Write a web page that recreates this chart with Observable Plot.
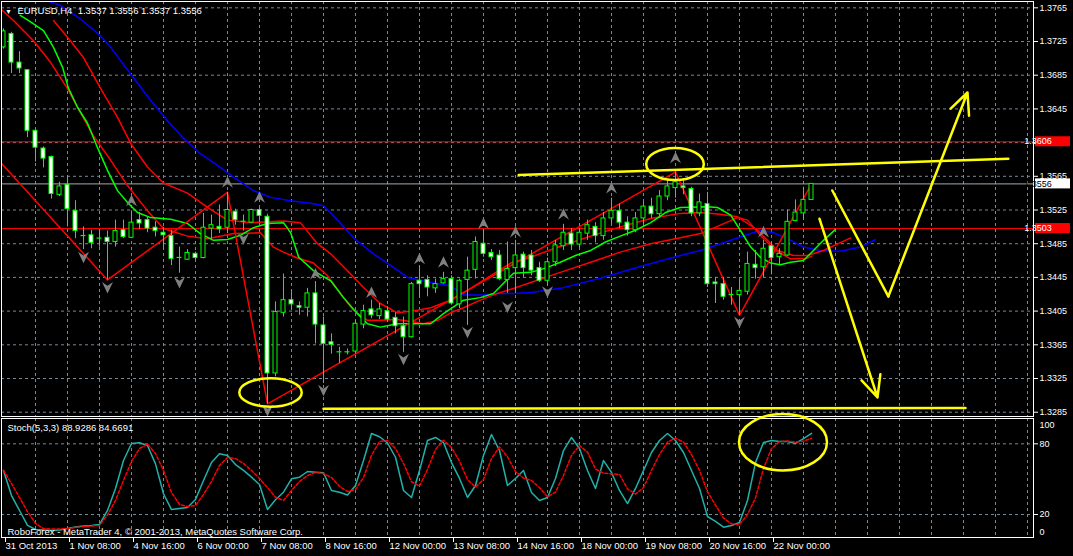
<!DOCTYPE html>
<html><head><meta charset="utf-8">
<script src="https://cdn.jsdelivr.net/npm/d3@7"></script>
<script src="https://cdn.jsdelivr.net/npm/@observablehq/plot@0.6"></script>
<style>
html,body{margin:0;padding:0;background:#000;overflow:hidden;}
#chart{position:relative;width:1073px;height:556px;background:#000;overflow:hidden;}
#chart svg{position:absolute;left:0;display:block;}
</style></head><body><div id="chart"></div>
<script>
// ---------- DATA ----------
const opens = [1.3718,1.3734,1.3700,1.3691,1.3619,1.3598,1.3588,1.3543,1.3555,1.3524,1.3494,1.3495,1.3491,1.3492,1.3487,1.3501,1.3492,1.3513,1.3513,1.3504,1.3498,1.3494,1.3468,1.3466,1.3473,1.3468,1.3503,1.3505,1.3504,1.3523,1.3511,1.3510,1.3525,1.3517,1.3331,1.3403,1.3418,1.3411,1.3409,1.3426,1.3388,1.3368,1.3356,1.3356,1.3357,1.3389,1.3407,1.3399,1.3405,1.3397,1.3387,1.3374,1.3441,1.3442,1.3432,1.3438,1.3443,1.3413,1.3442,1.3454,1.3485,1.3474,1.3471,1.3442,1.3456,1.3472,1.3471,1.3456,1.3441,1.3463,1.3482,1.3497,1.3484,1.3497,1.3505,1.3494,1.3515,1.3524,1.3510,1.3501,1.3515,1.3529,1.3520,1.3541,1.3551,1.3553,1.3550,1.3521,1.3532,1.3439,1.3437,1.3424,1.3424,1.3428,1.3460,1.3457,1.3482,1.3469,1.3471,1.3512,1.3521,1.3537];
const highs = [1.3740,1.3736,1.3713,1.3691,1.3620,1.3600,1.3589,1.3558,1.3566,1.3536,1.3505,1.3501,1.3500,1.3500,1.3513,1.3513,1.3524,1.3522,1.3517,1.3511,1.3504,1.3501,1.3481,1.3478,1.3475,1.3521,1.3519,1.3531,1.3546,1.3526,1.3519,1.3526,1.3527,1.3520,1.3416,1.3449,1.3430,1.3416,1.3432,1.3440,1.3398,1.3378,1.3362,1.3360,1.3394,1.3412,1.3418,1.3414,1.3410,1.3403,1.3398,1.3439,1.3458,1.3447,1.3443,1.3451,1.3447,1.3443,1.3469,1.3493,1.3501,1.3478,1.3477,1.3487,1.3489,1.3475,1.3477,1.3463,1.3468,1.3489,1.3508,1.3503,1.3503,1.3513,1.3510,1.3522,1.3539,1.3532,1.3517,1.3522,1.3534,1.3539,1.3548,1.3560,1.3570,1.3560,1.3552,1.3544,1.3546,1.3445,1.3445,1.3433,1.3442,1.3475,1.3477,1.3489,1.3486,1.3479,1.3525,1.3537,1.3552,1.3556];
const lows = [1.3716,1.3687,1.3687,1.3611,1.3582,1.3575,1.3538,1.3541,1.3505,1.3491,1.3478,1.3479,1.3481,1.3442,1.3481,1.3491,1.3491,1.3502,1.3498,1.3493,1.3477,1.3459,1.3450,1.3465,1.3465,1.3467,1.3489,1.3497,1.3497,1.3507,1.3500,1.3509,1.3510,1.3295,1.3327,1.3398,1.3406,1.3400,1.3398,1.3366,1.3319,1.3354,1.3343,1.3353,1.3354,1.3384,1.3396,1.3395,1.3392,1.3378,1.3356,1.3373,1.3420,1.3422,1.3426,1.3437,1.3412,1.3408,1.3388,1.3443,1.3469,1.3465,1.3441,1.3426,1.3426,1.3445,1.3447,1.3439,1.3435,1.3458,1.3477,1.3477,1.3479,1.3489,1.3486,1.3489,1.3508,1.3503,1.3494,1.3498,1.3508,1.3515,1.3515,1.3536,1.3539,1.3543,1.3517,1.3517,1.3433,1.3414,1.3418,1.3412,1.3400,1.3424,1.3443,1.3445,1.3448,1.3459,1.3470,1.3511,1.3513,1.3537];
const closes = [1.3737,1.3700,1.3693,1.3619,1.3599,1.3586,1.3544,1.3553,1.3526,1.3500,1.3494,1.3486,1.3491,1.3487,1.3500,1.3493,1.3510,1.3509,1.3503,1.3500,1.3495,1.3467,1.3468,1.3474,1.3468,1.3504,1.3507,1.3502,1.3525,1.3513,1.3511,1.3525,1.3518,1.3331,1.3404,1.3418,1.3413,1.3409,1.3426,1.3389,1.3366,1.3365,1.3356,1.3356,1.3390,1.3405,1.3400,1.3407,1.3395,1.3387,1.3374,1.3437,1.3437,1.3433,1.3437,1.3443,1.3414,1.3441,1.3453,1.3487,1.3473,1.3469,1.3443,1.3455,1.3471,1.3456,1.3453,1.3441,1.3463,1.3483,1.3498,1.3484,1.3498,1.3507,1.3494,1.3515,1.3524,1.3510,1.3501,1.3515,1.3529,1.3520,1.3541,1.3553,1.3558,1.3551,1.3521,1.3534,1.3437,1.3437,1.3422,1.3424,1.3429,1.3461,1.3456,1.3479,1.3468,1.3473,1.3511,1.3522,1.3537,1.3556];

// x-axis: bar index of each label and its text
const timeTickBars = [0,8,16,24,32,40,48,56,64,72,80,88,96];
const timeTickLabels = ["31 Oct 2013","1 Nov 08:00","4 Nov 16:00","6 Nov 00:00","7 Nov 08:00","8 Nov 16:00","12 Nov 00:00","13 Nov 08:00","14 Nov 16:00","18 Nov 00:00","19 Nov 08:00","20 Nov 16:00","22 Nov 00:00"];
const priceTicks = [1.3765,1.3725,1.3685,1.3645,1.3605,1.3565,1.3525,1.3485,1.3445,1.3405,1.3365,1.3325,1.3285];

// Alligator-style lines: [bar, price]
const lipsGreen = [[2.1,1.3756],[3.1,1.3750],[5,1.3738],[6.25,1.3718],[7.4,1.3694],[8.1,1.3670],[9.25,1.3647],[10.5,1.3628],[11.75,1.3599],[13,1.3572],[14.25,1.3548],[15.5,1.3534],[16.75,1.3522],[18.4,1.3516],[20.9,1.3514],[23,1.3509],[24.6,1.3497],[26.25,1.3489],[28,1.3490],[29.6,1.3495],[31.25,1.3504],[33,1.3509],[35,1.3510],[35.9,1.3498],[36.9,1.3469],[38.75,1.3453],[40.9,1.3441],[42.5,1.3421],[44.25,1.3402],[45.5,1.3390],[47.1,1.3386],[49.25,1.3390],[51.25,1.3390],[53.4,1.3390],[55,1.3402],[57.5,1.3418],[59.6,1.3421],[61.25,1.3426],[62.5,1.3438],[63.75,1.3450],[65.9,1.3451],[67.75,1.3456],[69.6,1.3463],[71.5,1.3471],[73.4,1.3477],[75.25,1.3487],[77.1,1.3494],[79,1.3501],[80.9,1.3510],[82.75,1.3522],[84.6,1.3528],[88,1.3529],[89.25,1.3528],[90.9,1.3519],[92.1,1.3501],[93.4,1.3481],[94.6,1.3469],[95.9,1.3462],[97.1,1.3460],[98.4,1.3463],[100,1.3465],[101.25,1.3477],[102.5,1.3489],[104,1.3502]];
const jawBlue = [[5.25,1.3774],[7.1,1.3768],[9.6,1.3752],[12.1,1.3732],[13.4,1.3718],[16.25,1.3682],[18.4,1.3655],[20.5,1.3631],[22.5,1.3610],[24.6,1.3592],[26.75,1.3578],[28.75,1.3564],[31.25,1.3548],[33.4,1.3540],[35.9,1.3536],[38.4,1.3533],[40,1.3530],[41.75,1.3513],[43.75,1.3492],[46.25,1.3473],[48.75,1.3457],[50.5,1.3445],[53.4,1.3439],[55.9,1.3435],[57.5,1.3424],[60,1.3424],[61.75,1.3426],[63.75,1.3426],[65.9,1.3427],[69.6,1.3432],[74.6,1.3444],[79.6,1.3458],[84.6,1.3471],[87.1,1.3477],[89.6,1.3485],[92.1,1.3493],[94.6,1.3501],[96.25,1.3498],[98,1.3491],[100,1.3481],[102.1,1.3477],[104.6,1.3476],[107.1,1.3481],[109,1.3490]];
const teethRedA = [[6.25,1.3750],[8,1.3730],[10,1.3706],[12.1,1.3670],[14.25,1.3635],[15.9,1.3604],[18,1.3576],[20,1.3557],[23,1.3545],[25.5,1.3528],[28,1.3513],[30.9,1.3510],[35,1.3512],[37.1,1.3510],[39.25,1.3485],[40.9,1.3473],[43,1.3453],[45,1.3433],[47.1,1.3414],[49.25,1.3403],[51.75,1.3406],[53.4,1.3409],[55.9,1.3418],[58.4,1.3432],[60.9,1.3447],[63.4,1.3462],[65.9,1.3469],[69.6,1.3482],[73.4,1.3494],[77.1,1.3505],[80.9,1.3515],[84.6,1.3521],[87.1,1.3522],[89.6,1.3520],[91.75,1.3517],[94.25,1.3501],[96.75,1.3477],[98.75,1.3471],[100.5,1.3471],[102.5,1.3477],[105.9,1.3492]];
const maRedB = [[-0.4,1.3764],[1.25,1.3750],[3.75,1.3726],[5.9,1.3700],[8,1.3669],[9.6,1.3641],[11.25,1.3613],[13.4,1.3584],[15.5,1.3554],[18,1.3524],[20,1.3503],[23,1.3494],[25.5,1.3491],[28.75,1.3497],[32.1,1.3498],[33.75,1.3481],[35,1.3475],[36.75,1.3468],[38.75,1.3462],[40.5,1.3447],[42.1,1.3426],[43.75,1.3406],[45.5,1.3394],[47.1,1.3394],[49.25,1.3395],[51.25,1.3392],[52.5,1.3390],[54.25,1.3394],[55.9,1.3403],[57.5,1.3409],[59.6,1.3418],[61.75,1.3426],[63.75,1.3432],[65.9,1.3439],[69.6,1.3451],[73.4,1.3463],[77.1,1.3475],[80.9,1.3485],[84.6,1.3492],[87.1,1.3497],[89.6,1.3507],[91.75,1.3516],[93,1.3513],[94.6,1.3495],[96.5,1.3477],[98.4,1.3467],[100.25,1.3467],[101,1.3470]];
const zigzag = [[-3,1.3609],[13,1.3442],[28,1.3546],[33,1.3295],[84,1.3570],[92,1.3400],[101,1.3556]];

const fractalUpBars = [16,28,32,39,46,52,55,60,64,70,76,84,95];
const fractalUpPrices = [1.3536,1.3558,1.3540,1.3449,1.3427,1.3467,1.3463,1.3509,1.3499,1.3520,1.3551,1.3587,1.3499];
const fractalDownBars = [10,13,22,30,33,40,50,58,63,68,92];
const fractalDownPrices = [1.3469,1.3433,1.3439,1.3491,1.3287,1.3311,1.3348,1.3380,1.3410,1.3428,1.3392];

const redLevels = [1.3606, 1.3503];
const bidPrice = 1.3556;

// yellow hand drawings
const yellowTopLine = [[64.4,1.35665],[125.6,1.35858]];
const yellowBottomLine = [[40,1.3289],[120.25,1.3290]];
const yellowVLeft = [[103.6,1.35482],[110.6,1.34224]];
const yellowArrows = [
  {b1:110.6, p1:1.34224, b2:120.5, p2:1.36645},
  {b1:102.0, p1:1.35146, b2:109.25, p2:1.33025}
];
const ellipseBars = [33.44, 84];
const ellipsePrices = [1.33078, 1.3579];
const ellipseRxBars = [3.9, 3.6];
const ellipseRyPrice = [0.00169, 0.0019];

// stochastic (5,3,3)
const stochMain = [57.4,36.1,23.4,10.7,7.3,6.8,6.4,6.8,8.1,9.4,10.2,10.7,11.5,23.4,42.1,65.8,80.3,80.9,78.6,63.0,37.6,24.2,25.1,25.9,32.7,48.9,64.1,71.5,70.1,62.4,57.4,51.7,45.5,24.2,32.5,38.9,50.3,51.7,56.5,55.9,55.4,40.4,38.9,36.6,44.6,65.8,88.8,86.0,80.7,68.6,40.4,34.4,57.4,82.8,85.4,81.1,64.1,50.6,34.4,44.6,70.1,87.9,74.3,44.6,50.6,57.4,38.7,31.9,34.4,50.6,74.3,85.4,76.0,57.4,42.1,65.8,55.7,40.4,29.3,42.1,57.4,72.6,82.8,88.8,82.8,72.6,57.4,42.1,18.3,14.1,9.2,10.7,13.2,31.9,64.1,81.1,82.8,82.0,82.0,80.3,84.5,88.9];
const stochSignal = [57.4,46.3,34.4,22.5,12.4,7.9,7.7,7.7,8.1,9.0,9.8,10.2,10.7,19.6,31.9,48.9,65.0,76.0,79.8,71.7,57.4,38.7,28.5,26.8,27.6,37.0,48.0,61.6,68.4,67.5,63.3,57.4,50.6,42.9,34.7,31.9,40.4,48.0,53.1,55.7,54.8,51.4,43.8,39.5,41.2,51.4,70.1,82.0,82.8,76.0,63.3,47.8,44.1,58.2,75.2,83.1,76.9,65.3,49.7,43.2,49.7,67.5,77.4,68.9,56.5,50.9,48.9,42.7,35.0,39.0,53.1,70.1,78.6,72.9,58.5,55.1,54.5,54.0,41.8,37.3,42.9,57.4,70.9,81.4,84.8,81.4,70.9,57.4,39.3,28.0,17.0,12.0,11.5,20.0,34.0,59.0,76.0,82.0,82.3,81.4,82.3,84.7];
const stochLevels = [20, 80];
const stochEllipse = {bar: 97.5, value: 81, rxBars: 5.5, ryValue: 24};

const headerText = "EURUSD,H4  1.3537 1.3556 1.3537 1.3556";
const stochText = "Stoch(5,3,3) 88.9286 84.6691";
const footerText = "RoboForex - MetaTrader 4, © 2001-2013, MetaQuotes Software Corp.";

// ---------- BUILD ----------
const FONT = "'Liberation Sans', Arial, sans-serif";
const GRID = "#778899";
const LIME = "#00ff00";
const YEL = "#ffff00";
const toPts = arr => arr.map(([b, p]) => ({b, p}));
const candles = opens.map((o, i) => ({i, open: o, high: highs[i], low: lows[i], close: closes[i]}));
const gridBars = d3.range(4, 129, 4);
const xDomain = [-0.25, 128.75];
// axis labels hidden under a price label box (as in the terminal)
const boxPrices = [redLevels[0], bidPrice, redLevels[1]];
const hiddenTick = d => boxPrices.some(p => Math.abs(p - d) < 0.0004);

const arrowUp = {draw(ctx, size) { const r = Math.sqrt(size / Math.PI); ctx.moveTo(0, -r * 1.1); ctx.lineTo(r, r); ctx.lineTo(0, r * 0.3); ctx.lineTo(-r, r); ctx.closePath(); }};
const arrowDown = {draw(ctx, size) { const r = Math.sqrt(size / Math.PI); ctx.moveTo(0, r * 1.1); ctx.lineTo(r, -r); ctx.lineTo(0, -r * 0.3); ctx.lineTo(-r, -r); ctx.closePath(); }};
const fracUp = fractalUpBars.map((b, k) => ({b, p: fractalUpPrices[k]}));
const fracDown = fractalDownBars.map((b, k) => ({b, p: fractalDownPrices[k]}));

const main = Plot.plot({
  width: 1073, height: 418,
  marginLeft: 1, marginRight: 40, marginTop: 1, marginBottom: 2,
  x: {domain: xDomain, axis: null, label: null},
  y: {domain: [1.32799, 1.37725], axis: null, label: null},
  style: {background: "#000", color: "#fff", fontFamily: FONT, fontSize: "9px", overflow: "visible"},
  marks: [
    Plot.ruleY(priceTicks, {stroke: GRID, strokeDasharray: "3,3"}),
    Plot.ruleX(gridBars, {stroke: GRID, strokeDasharray: "3,3"}),
    Plot.ruleY(redLevels, {stroke: "#ff0000"}),
    Plot.ruleY([bidPrice], {stroke: "#a8a8a8"}),
    Plot.line(toPts(jawBlue), {x: "b", y: "p", stroke: "#0000ff", clip: true}),
    Plot.line(toPts(teethRedA), {x: "b", y: "p", stroke: "#ff0000", clip: true}),
    Plot.line(toPts(maRedB), {x: "b", y: "p", stroke: "#ff0000", clip: true}),
    Plot.line(toPts(lipsGreen), {x: "b", y: "p", stroke: LIME, clip: true}),
    Plot.line(toPts(zigzag), {x: "b", y: "p", stroke: "#ff0000", clip: true}),
    Plot.ruleX(candles, {x: "i", y1: "low", y2: "high", stroke: LIME, clip: true}),
    Plot.rect(candles, {
      x1: d => d.i - 0.25, x2: d => d.i + 0.25,
      y1: "open", y2: d => d.close === d.open ? d.close + 0.00002 : d.close,
      fill: d => d.close >= d.open ? "#000" : "#fff", stroke: LIME, strokeWidth: 1, clip: true
    }),
    Plot.dot(fracUp, {x: "b", y: "p", symbol: arrowUp, r: 5.5, fill: "#808080", stroke: "none"}),
    Plot.dot(fracDown, {x: "b", y: "p", symbol: arrowDown, r: 5.5, fill: "#808080", stroke: "none"}),
    Plot.line(toPts(yellowTopLine), {x: "b", y: "p", stroke: YEL, strokeWidth: 2.5}),
    Plot.line(toPts(yellowBottomLine), {x: "b", y: "p", stroke: YEL, strokeWidth: 2.5}),
    Plot.line(toPts(yellowVLeft), {x: "b", y: "p", stroke: YEL, strokeWidth: 2.5}),
    Plot.arrow(yellowArrows, {x1: "b1", y1: "p1", x2: "b2", y2: "p2", stroke: YEL, strokeWidth: 2.5, headLength: 14, headAngle: 50}),
    Plot.axisY({anchor: "right", label: null, ticks: priceTicks, tickFormat: d => hiddenTick(d) ? "" : d.toFixed(4), tickSize: 4, tickPadding: 2, fontSize: 9}),
    Plot.text([headerText], {frameAnchor: "top-left", dx: 16, dy: 9.5, lineAnchor: "middle", textAnchor: "start", fill: "#fff", fontSize: 9.5}),
    Plot.text(["▼"], {frameAnchor: "top-left", dx: 7, dy: 10, lineAnchor: "middle", textAnchor: "middle", fill: "#fff", fontSize: 7}),
    Plot.frame({stroke: "#fff"})
  ]
});
main.style.top = "0px";
document.getElementById("chart").appendChild(main);

// ellipses and price label boxes via the plot's own scales
(function decorateMain() {
  const xs = main.scale("x"), ys = main.scale("y");
  const g = d3.select(main).append("g");
  ellipseBars.forEach((b, k) => {
    const cx = xs.apply(b), cy = ys.apply(ellipsePrices[k]);
    g.append("ellipse").attr("cx", cx).attr("cy", cy)
      .attr("rx", xs.apply(b + ellipseRxBars[k]) - cx)
      .attr("ry", ys.apply(ellipsePrices[k] - ellipseRyPrice[k]) - cy)
      .attr("fill", "none").attr("stroke", YEL).attr("stroke-width", 2.5);
  });
  const right = xs.range[1];
  const boxes = [
    {p: redLevels[0], bg: "#ff0000", fg: "#fff"},
    {p: bidPrice, bg: "#fff", fg: "#000"},
    {p: redLevels[1], bg: "#ff0000", fg: "#fff"}
  ];
  boxes.forEach(bx => {
    const y = ys.apply(bx.p);
    g.append("rect").attr("x", right + 2).attr("y", y - 5).attr("width", 35).attr("height", 10).attr("fill", bx.bg);
    g.append("text").attr("x", right + 5).attr("y", y).attr("dy", "0.35em")
      .attr("fill", bx.fg).attr("font-size", 9).attr("font-family", FONT).text(bx.p.toFixed(4));
  });
})();

const stochRows = stochMain.map((v, i) => ({i, main: v, signal: stochSignal[i]}));
const tickLabelOf = new Map(timeTickBars.map((b, k) => [b, timeTickLabels[k]]));

const stoch = Plot.plot({
  width: 1073, height: 139,
  marginLeft: 1, marginRight: 40, marginTop: 1, marginBottom: 19,
  x: {domain: xDomain, axis: null, label: null},
  y: {domain: [0.47, 101.5], axis: null, label: null},
  style: {background: "#000", color: "#fff", fontFamily: FONT, fontSize: "9px", overflow: "visible"},
  marks: [
    Plot.ruleY(stochLevels, {stroke: GRID, strokeDasharray: "3,3"}),
    Plot.ruleX(gridBars, {stroke: GRID, strokeDasharray: "3,3"}),
    Plot.line(stochRows, {x: "i", y: "main", stroke: "#20b2aa"}),
    Plot.line(stochRows, {x: "i", y: "signal", stroke: "#ff0000", strokeDasharray: "3,2"}),
    Plot.text([stochText], {frameAnchor: "top-left", dx: 6, dy: 9, lineAnchor: "middle", textAnchor: "start", fill: "#fff", fontSize: 9.5}),
    Plot.text([footerText], {frameAnchor: "bottom-left", dx: 6, dy: -6, lineAnchor: "middle", textAnchor: "start", fill: "#fff", fontSize: 9.5}),
    Plot.axisY({anchor: "right", label: null, ticks: stochLevels, tickFormat: d => String(d), tickSize: 4, tickPadding: 2, fontSize: 9}),
    Plot.text(["100"], {frameAnchor: "top-right", dx: 6, dy: 7, lineAnchor: "middle", textAnchor: "start", fill: "#fff", fontSize: 9}),
    Plot.text(["0"], {frameAnchor: "bottom-right", dx: 6, dy: -5, lineAnchor: "middle", textAnchor: "start", fill: "#fff", fontSize: 9}),
    Plot.axisX({anchor: "bottom", label: null, ticks: timeTickBars, tickFormat: d => tickLabelOf.get(d), tickSize: 5, tickPadding: 0, textAnchor: "start", dx: 2, fontSize: 9.5}),
    Plot.frame({stroke: "#fff"})
  ]
});
stoch.style.top = "417px";
document.getElementById("chart").appendChild(stoch);

(function decorateStoch() {
  const xs = stoch.scale("x"), ys = stoch.scale("y");
  const cx = xs.apply(stochEllipse.bar), cy = ys.apply(stochEllipse.value);
  d3.select(stoch).append("ellipse").attr("cx", cx).attr("cy", cy)
    .attr("rx", xs.apply(stochEllipse.bar + stochEllipse.rxBars) - cx)
    .attr("ry", ys.apply(stochEllipse.value - stochEllipse.ryValue) - cy)
    .attr("fill", "none").attr("stroke", YEL).attr("stroke-width", 2.5);
})();
</script></body></html>
